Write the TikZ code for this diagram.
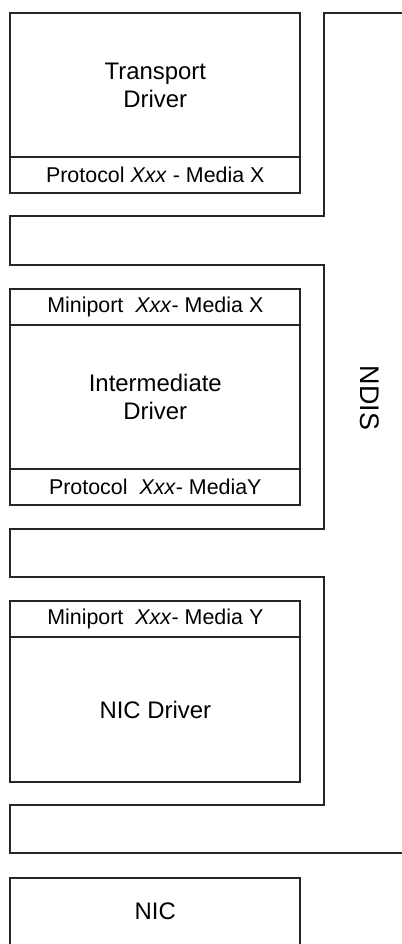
\documentclass[tikz,border=0pt]{standalone}
\usepackage{fontspec}
\setmainfont{Liberation Sans}
\begin{document}
\begin{tikzpicture}[x=1bp,y=-1bp,
  line width=1.7bp,
  box/.style={draw=black!85, rectangle, minimum width=290bp, inner sep=0pt,
              outer sep=0pt, font=\fontsize{24}{28}\selectfont, align=center},
  tag/.style={box, minimum height=36bp, font=\fontsize{21.5}{24}\selectfont}]
  \useasboundingbox (0,0) rectangle (401,944);
  \newcommand\xxx{\textit{Xxx}}

  % NDIS layer: one winding outline between the driver stacks
  \draw[draw=black!85, line join=miter]
    (402,13) -- (324,13) -- (324,216) -- (10,216) -- (10,265) -- (324,265)
    -- (324,529) -- (10,529) -- (10,577) -- (324,577) -- (324,805)
    -- (10,805) -- (10,853) -- (402,853);
  \node[rotate=-90, font=\fontsize{27}{30}\selectfont] (ndis) at (370,398) {NDIS};

  % Transport driver
  \node[box, minimum height=144bp] (td) at (155.3,85) {Transport\\Driver};
  \node[tag, anchor=north] (tdp) at (td.south) {Protocol \xxx{} - Media X};

  % Intermediate driver
  \node[tag] (imx) at (155.3,307) {Miniport \ \xxx{}- Media X};
  \node[box, minimum height=144bp, anchor=north] (im) at (imx.south) {Intermediate\\Driver};
  \node[tag, anchor=north] (imy) at (im.south) {Protocol \ \xxx{}- MediaY};

  % NIC driver
  \node[tag] (nmy) at (155.3,619) {Miniport \ \xxx{}- Media Y};
  \node[box, minimum height=145bp, anchor=north] (nd) at (nmy.south) {NIC Driver};

  % NIC hardware (runs past the lower edge)
  \node[box, minimum height=90bp, anchor=north] (nic) at (155.3,878) {};
  \node[font=\fontsize{24}{28}\selectfont] (nictext) at (155.3,911) {NIC};
\end{tikzpicture}
\end{document}
